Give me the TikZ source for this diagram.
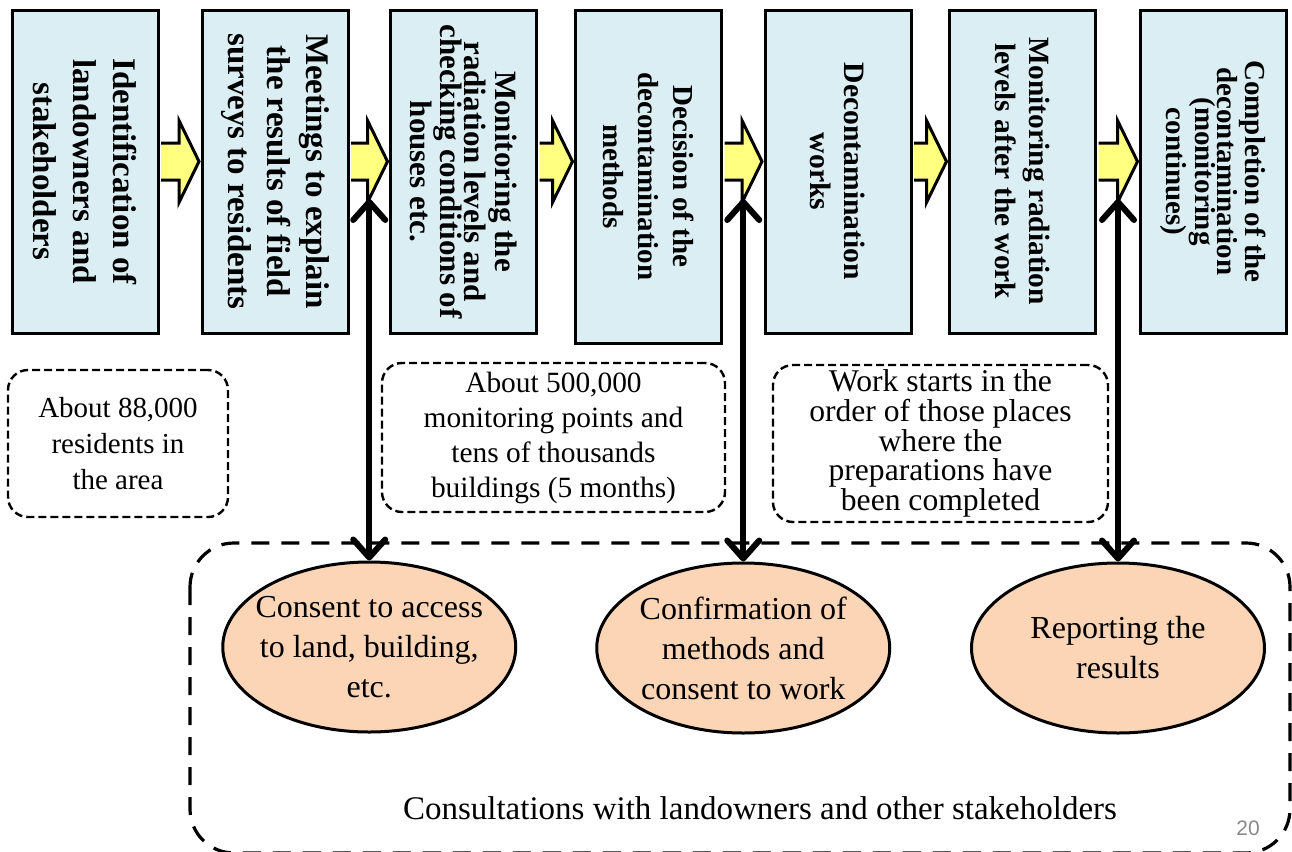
\documentclass[tikz,border=0pt]{standalone}
\usepackage{fontspec}
\setmainfont{Liberation Serif}
\setsansfont{Liberation Sans}
\usetikzlibrary{calc,shapes.geometric,arrows.meta}
\definecolor{boxblue}{RGB}{219,238,244}
\definecolor{arrowyellow}{RGB}{255,255,128}
\definecolor{peach}{RGB}{251,213,181}
\definecolor{pagegray}{RGB}{137,137,137}
\tikzset {>={Straight Barb[length=9pt,width=16pt,round]}}
\tikzset{
  stepbox/.style={draw,line width=1.5pt,fill=boxblue,
    minimum width=73pt,minimum height=161.5pt,inner sep=2pt},
  flowarrow/.style={draw,line width=1.5pt,fill=arrowyellow,line join=miter},
  notebox/.style={draw,line width=1.2pt,dash pattern=on 4pt off 2pt,
    rounded corners=10pt,align=center,inner sep=0pt},
  talk/.style={ellipse,draw,line width=1.5pt,fill=peach,
    minimum width=146.5pt,minimum height=85pt,inner xsep=-12pt,inner ysep=-6pt,
    align=center,font=\fontsize{16}{20}\selectfont},
  link/.style={line width=3pt,<->}
}
\newcommand\sidetext[1]{\rotatebox{-90}{\parbox{150pt}{\centering #1}}}

\begin{document}
\begin{tikzpicture}[x=0.5pt,y=-0.5pt]
\useasboundingbox (0,0) rectangle (1292,852);

% steps of the work
\node[stepbox,font=\fontsize{16.5}{20}\selectfont\bfseries] (b1) at (85,171.5)
  {\sidetext{Identification of\\landowners and\\stakeholders}};
\node[stepbox,font=\fontsize{16.5}{19.5}\selectfont\bfseries] (b2) at (275,171.5)
  {\sidetext{Meetings to explain\\the results of field\\surveys to residents}};
\node[stepbox,font=\fontsize{15.5}{12}\selectfont\bfseries] (b3) at (463.5,171.5)
  {\sidetext{Monitoring the\\radiation levels and\\checking conditions of\\houses etc.}};
\node[stepbox,minimum height=166.5pt,font=\fontsize{14.5}{17.5}\selectfont\bfseries]
  (b4) at (648.5,176.5)
  {\sidetext{Decision of the\\decontamination\\methods}};
\node[stepbox,font=\fontsize{14.8}{17}\selectfont\bfseries] (b5) at (838,171.5)
  {\sidetext{Decontamination\\works}};
\node[stepbox,font=\fontsize{14.7}{17}\selectfont\bfseries] (b6) at (1022.5,171.5)
  {\sidetext{Monitoring radiation\\levels after the work}};
\node[stepbox,font=\fontsize{14.5}{11}\selectfont\bfseries] (b7) at (1213.5,171.5)
  {\sidetext{Completion of the\\decontamination\\(monitoring\\continues)}};

\foreach \a/\b in {b1/b2,b2/b3,b3/b4,b4/b5,b5/b6,b6/b7}
{
  \path ($(\a.east |- 0,161.5)+(1.5,0)$) coordinate (s)
        ($(\b.west |- 0,161.5)+(-1.5,0)$) coordinate (t);
  \filldraw[flowarrow]
    ($(s)+(0,-18.5)$) -- ($(t)+(-20,-18.5)$) -- ($(t)+(-20,-41)$) --
    (t) --
    ($(t)+(-20,41)$) -- ($(t)+(-20,18.5)$) -- ($(s)+(0,18.5)$);
}

% notes
\node[notebox,minimum width=110pt,minimum height=73.5pt,
  font=\fontsize{14.5}{18}\selectfont] (n1) at (118,443.5)
  {About 88,000\\residents in\\the area};
\node[notebox,minimum width=171.5pt,minimum height=74.5pt,
  font=\fontsize{14.7}{17.5}\selectfont] (n2) at (553.5,437.5)
  {About 500,000\\monitoring points and\\tens of thousands\\buildings (5 months)};
\node[notebox,minimum width=167.5pt,minimum height=78.5pt,
  font=\fontsize{15.8}{14.8}\selectfont] (n3) at (940.5,443.5)
  {Work starts in the\\order of those places\\where the\\preparations have\\been completed};

% consultations
\draw[line width=1.6pt,dash pattern=on 9pt off 6pt,rounded corners=22pt]
  (190,543) rectangle (1290,853);

\path ($(b2.east)!.5!(b3.west)$) coordinate (m1)
      ($(b4.east)!.5!(b5.west)$) coordinate (m2)
      ($(b6.east)!.5!(b7.west)$) coordinate (m3);
\coordinate (g1) at (m1 |- 0,199);
\coordinate (g2) at (m2 |- 0,199);
\coordinate (g3) at (m3 |- 0,199);

\node[talk] (e1) at (g1 |- 0,647) {Consent to access\\to land, building,\\etc.};
\node[talk] (e2) at (g2 |- 0,648) {Confirmation of\\methods and\\consent to work};
\node[talk] (e3) at (g3 |- 0,648) {Reporting the\\results};

\foreach \i in {1,2,3}
  \draw[link] (g\i) -- (e\i.north);

\node[font=\fontsize{16.5}{20}\selectfont] (consult) at (760,808)
  {Consultations with landowners and other stakeholders};
\node[font=\sffamily\fontsize{10.5}{12}\selectfont,text=pagegray] (page) at (1248,828) {20};
\end{tikzpicture}
\end{document}
